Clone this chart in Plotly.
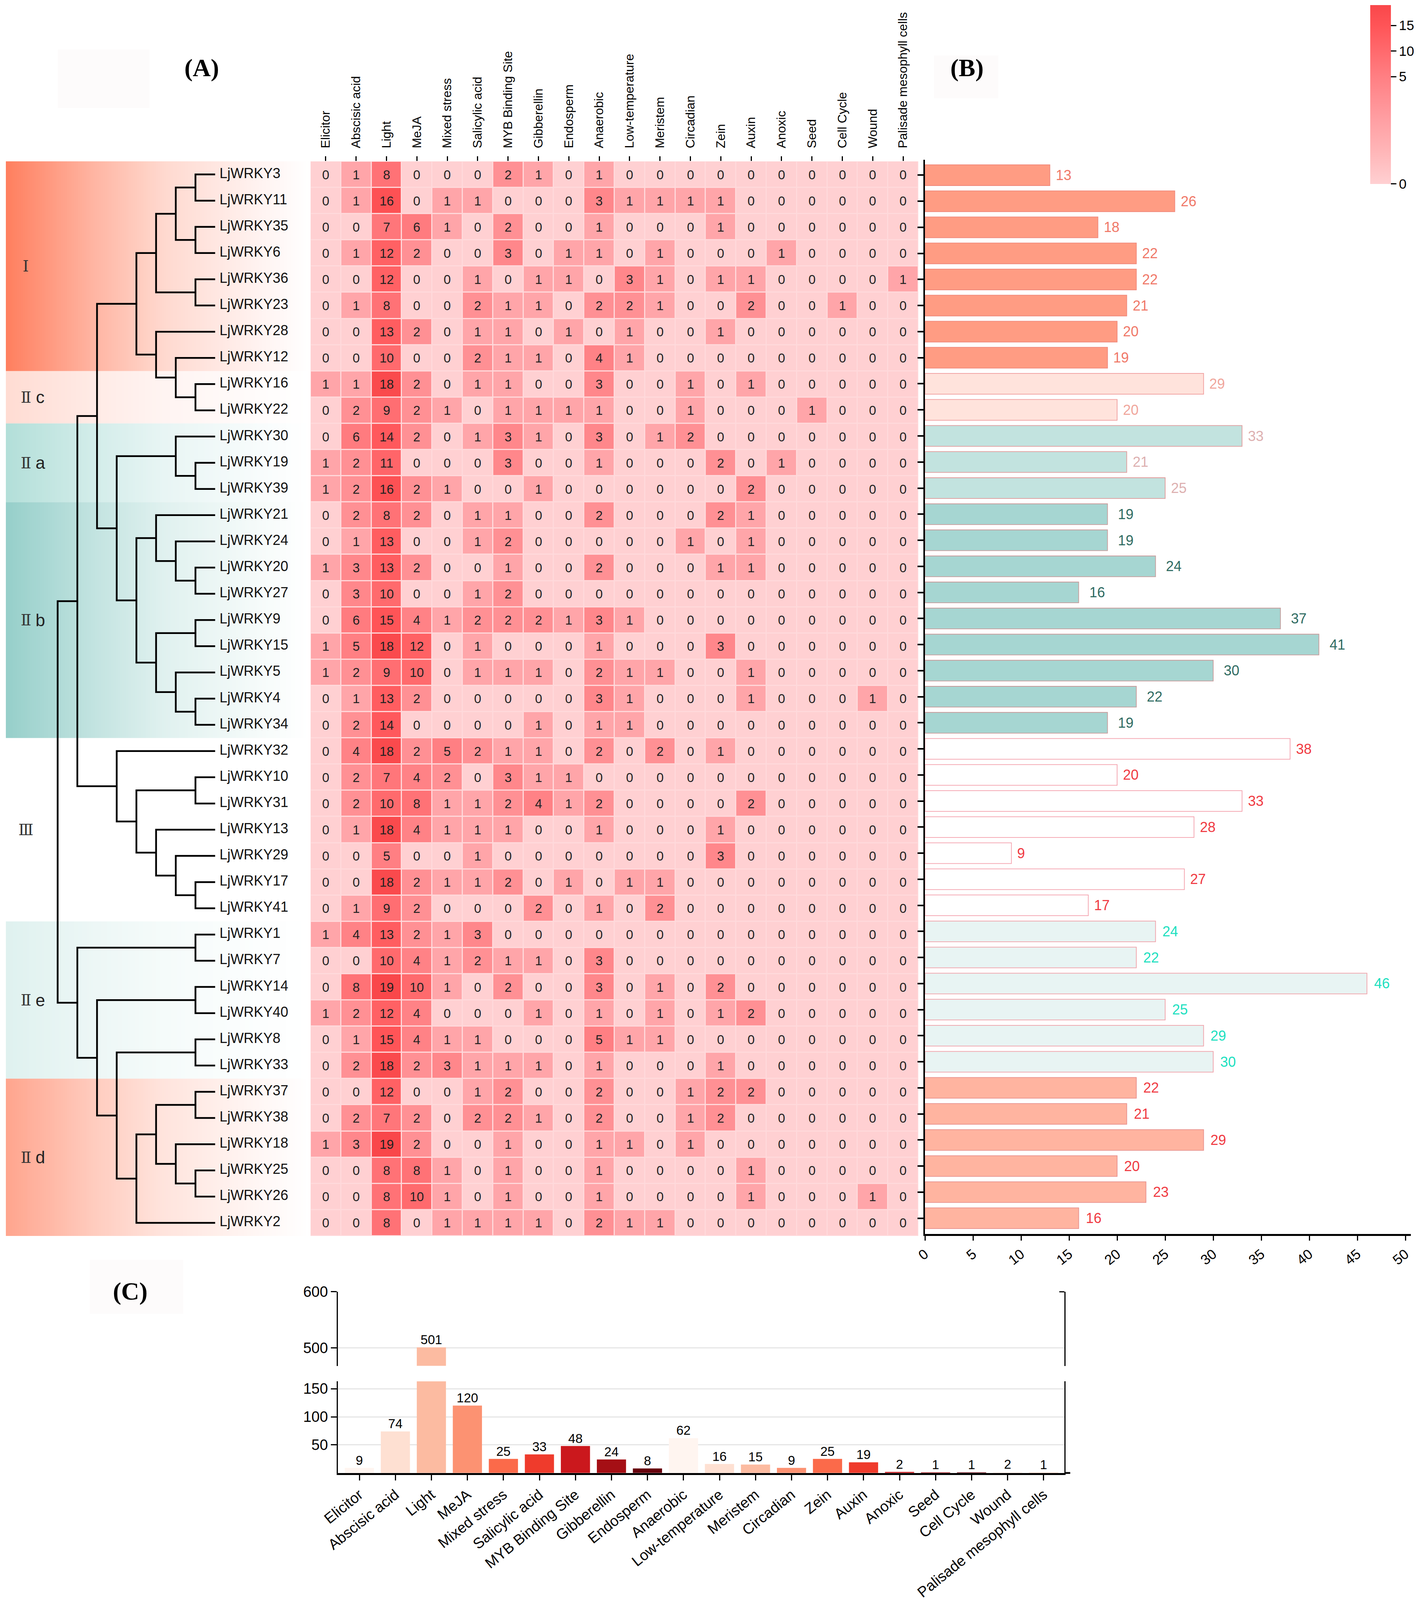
import numpy as np
import plotly.graph_objects as go

# ---------------------------------------------------------------- data
motifs = ["Elicitor", "Abscisic acid", "Light", "MeJA", "Mixed stress", "Salicylic acid",
          "MYB Binding Site", "Gibberellin", "Endosperm", "Anaerobic", "Low-temperature",
          "Meristem", "Circadian", "Zein", "Auxin", "Anoxic", "Seed", "Cell Cycle", "Wound",
          "Palisade mesophyll cells"]

genes = ["LjWRKY3", "LjWRKY11", "LjWRKY35", "LjWRKY6", "LjWRKY36", "LjWRKY23", "LjWRKY28", "LjWRKY12",
         "LjWRKY16", "LjWRKY22", "LjWRKY30", "LjWRKY19", "LjWRKY39", "LjWRKY21", "LjWRKY24", "LjWRKY20",
         "LjWRKY27", "LjWRKY9", "LjWRKY15", "LjWRKY5", "LjWRKY4", "LjWRKY34", "LjWRKY32", "LjWRKY10",
         "LjWRKY31", "LjWRKY13", "LjWRKY29", "LjWRKY17", "LjWRKY41", "LjWRKY1", "LjWRKY7", "LjWRKY14",
         "LjWRKY40", "LjWRKY8", "LjWRKY33", "LjWRKY37", "LjWRKY38", "LjWRKY18", "LjWRKY25", "LjWRKY26",
         "LjWRKY2"]

counts = [
    [0, 1, 8, 0, 0, 0, 2, 1, 0, 1, 0, 0, 0, 0, 0, 0, 0, 0, 0, 0],
    [0, 1, 16, 0, 1, 1, 0, 0, 0, 3, 1, 1, 1, 1, 0, 0, 0, 0, 0, 0],
    [0, 0, 7, 6, 1, 0, 2, 0, 0, 1, 0, 0, 0, 1, 0, 0, 0, 0, 0, 0],
    [0, 1, 12, 2, 0, 0, 3, 0, 1, 1, 0, 1, 0, 0, 0, 1, 0, 0, 0, 0],
    [0, 0, 12, 0, 0, 1, 0, 1, 1, 0, 3, 1, 0, 1, 1, 0, 0, 0, 0, 1],
    [0, 1, 8, 0, 0, 2, 1, 1, 0, 2, 2, 1, 0, 0, 2, 0, 0, 1, 0, 0],
    [0, 0, 13, 2, 0, 1, 1, 0, 1, 0, 1, 0, 0, 1, 0, 0, 0, 0, 0, 0],
    [0, 0, 10, 0, 0, 2, 1, 1, 0, 4, 1, 0, 0, 0, 0, 0, 0, 0, 0, 0],
    [1, 1, 18, 2, 0, 1, 1, 0, 0, 3, 0, 0, 1, 0, 1, 0, 0, 0, 0, 0],
    [0, 2, 9, 2, 1, 0, 1, 1, 1, 1, 0, 0, 1, 0, 0, 0, 1, 0, 0, 0],
    [0, 6, 14, 2, 0, 1, 3, 1, 0, 3, 0, 1, 2, 0, 0, 0, 0, 0, 0, 0],
    [1, 2, 11, 0, 0, 0, 3, 0, 0, 1, 0, 0, 0, 2, 0, 1, 0, 0, 0, 0],
    [1, 2, 16, 2, 1, 0, 0, 1, 0, 0, 0, 0, 0, 0, 2, 0, 0, 0, 0, 0],
    [0, 2, 8, 2, 0, 1, 1, 0, 0, 2, 0, 0, 0, 2, 1, 0, 0, 0, 0, 0],
    [0, 1, 13, 0, 0, 1, 2, 0, 0, 0, 0, 0, 1, 0, 1, 0, 0, 0, 0, 0],
    [1, 3, 13, 2, 0, 0, 1, 0, 0, 2, 0, 0, 0, 1, 1, 0, 0, 0, 0, 0],
    [0, 3, 10, 0, 0, 1, 2, 0, 0, 0, 0, 0, 0, 0, 0, 0, 0, 0, 0, 0],
    [0, 6, 15, 4, 1, 2, 2, 2, 1, 3, 1, 0, 0, 0, 0, 0, 0, 0, 0, 0],
    [1, 5, 18, 12, 0, 1, 0, 0, 0, 1, 0, 0, 0, 3, 0, 0, 0, 0, 0, 0],
    [1, 2, 9, 10, 0, 1, 1, 1, 0, 2, 1, 1, 0, 0, 1, 0, 0, 0, 0, 0],
    [0, 1, 13, 2, 0, 0, 0, 0, 0, 3, 1, 0, 0, 0, 1, 0, 0, 0, 1, 0],
    [0, 2, 14, 0, 0, 0, 0, 1, 0, 1, 1, 0, 0, 0, 0, 0, 0, 0, 0, 0],
    [0, 4, 18, 2, 5, 2, 1, 1, 0, 2, 0, 2, 0, 1, 0, 0, 0, 0, 0, 0],
    [0, 2, 7, 4, 2, 0, 3, 1, 1, 0, 0, 0, 0, 0, 0, 0, 0, 0, 0, 0],
    [0, 2, 10, 8, 1, 1, 2, 4, 1, 2, 0, 0, 0, 0, 2, 0, 0, 0, 0, 0],
    [0, 1, 18, 4, 1, 1, 1, 0, 0, 1, 0, 0, 0, 1, 0, 0, 0, 0, 0, 0],
    [0, 0, 5, 0, 0, 1, 0, 0, 0, 0, 0, 0, 0, 3, 0, 0, 0, 0, 0, 0],
    [0, 0, 18, 2, 1, 1, 2, 0, 1, 0, 1, 1, 0, 0, 0, 0, 0, 0, 0, 0],
    [0, 1, 9, 2, 0, 0, 0, 2, 0, 1, 0, 2, 0, 0, 0, 0, 0, 0, 0, 0],
    [1, 4, 13, 2, 1, 3, 0, 0, 0, 0, 0, 0, 0, 0, 0, 0, 0, 0, 0, 0],
    [0, 0, 10, 4, 1, 2, 1, 1, 0, 3, 0, 0, 0, 0, 0, 0, 0, 0, 0, 0],
    [0, 8, 19, 10, 1, 0, 2, 0, 0, 3, 0, 1, 0, 2, 0, 0, 0, 0, 0, 0],
    [1, 2, 12, 4, 0, 0, 0, 1, 0, 1, 0, 1, 0, 1, 2, 0, 0, 0, 0, 0],
    [0, 1, 15, 4, 1, 1, 0, 0, 0, 5, 1, 1, 0, 0, 0, 0, 0, 0, 0, 0],
    [0, 2, 18, 2, 3, 1, 1, 1, 0, 1, 0, 0, 0, 1, 0, 0, 0, 0, 0, 0],
    [0, 0, 12, 0, 0, 1, 2, 0, 0, 2, 0, 0, 1, 2, 2, 0, 0, 0, 0, 0],
    [0, 2, 7, 2, 0, 2, 2, 1, 0, 2, 0, 0, 1, 2, 0, 0, 0, 0, 0, 0],
    [1, 3, 19, 2, 0, 0, 1, 0, 0, 1, 1, 0, 1, 0, 0, 0, 0, 0, 0, 0],
    [0, 0, 8, 8, 1, 0, 1, 0, 0, 1, 0, 0, 0, 0, 1, 0, 0, 0, 0, 0],
    [0, 0, 8, 10, 1, 0, 1, 0, 0, 1, 0, 0, 0, 0, 1, 0, 0, 0, 1, 0],
    [0, 0, 8, 0, 1, 1, 1, 1, 0, 2, 1, 1, 0, 0, 0, 0, 0, 0, 0, 0],
]

gene_totals = [13, 26, 18, 22, 22, 21, 20, 19, 29, 20, 33, 21, 25, 19, 19, 24, 16, 37, 41, 30, 22, 19,
               38, 20, 33, 28, 9, 27, 17, 24, 22, 46, 25, 29, 30, 22, 21, 29, 20, 23, 16]

motif_totals = [9, 74, 501, 120, 25, 33, 48, 24, 8, 62, 16, 15, 9, 25, 19, 2, 1, 1, 2, 1]

group_numeral = ["Ⅰ", "Ⅱ", "Ⅱ", "Ⅱ", "Ⅲ", "Ⅱ", "Ⅱ"]
group_letter = ["", "c", "a", "b", "", "e", "d"]
group_size = [8, 2, 3, 9, 7, 6, 6]

# (level, child, child); leaf = gene name
tree = (0,
        (1,
         (2,
          (4,
           (5, (6, (7, "LjWRKY3", "LjWRKY11"), (7, "LjWRKY35", "LjWRKY6")), (7, "LjWRKY36", "LjWRKY23")),
           (5, "LjWRKY28", (6, "LjWRKY12", (7, "LjWRKY16", "LjWRKY22")))),
          (3,
           (6, "LjWRKY30", (7, "LjWRKY19", "LjWRKY39")),
           (4,
            (5, "LjWRKY21", (6, "LjWRKY24", (7, "LjWRKY20", "LjWRKY27"))),
            (5, (7, "LjWRKY9", "LjWRKY15"), (6, "LjWRKY5", (7, "LjWRKY4", "LjWRKY34")))))),
         (3,
          "LjWRKY32",
          (4,
           (7, "LjWRKY10", "LjWRKY31"),
           (5, "LjWRKY13", (6, "LjWRKY29", (7, "LjWRKY17", "LjWRKY41")))))),
        (1,
         (7, "LjWRKY1", "LjWRKY7"),
         (2,
          (7, "LjWRKY14", "LjWRKY40"),
          (3,
           (7, "LjWRKY8", "LjWRKY33"),
           (4,
            (5, (7, "LjWRKY37", "LjWRKY38"), (6, "LjWRKY18", (7, "LjWRKY25", "LjWRKY26"))),
            "LjWRKY2")))))

# ---------------------------------------------------------------- page geometry / styles
# Positions below are read off the 3638x4786 reference. The browser window is limited to 4096 px
# in height, so the page is laid out at that height and every vertical position keeps its fraction.
W, H = 3638, 4786
PAGE_H = 4096
VS = PAGE_H / H
FONT = "Liberation Sans"
SERIF = "Liberation Serif"


def dx(a, b):
    return [a / W, b / W]


def dy(top, bot):
    return [1 - bot / H, 1 - top / H]


ROW_TOP, ROW_BOT = 482.6, 3697.0
TREE_L, TREE_R = 15.0, 794.0
LEVEL0, LEVEL_STEP = 147.6, 50.4
level_range = [(TREE_L - LEVEL0) / LEVEL_STEP, (TREE_R - LEVEL0) / LEVEL_STEP]
n_rows = len(genes)
SLANT = -39  # 45 degrees on the reference, flattened with the page's height

band_color = ["#FF7F5F", "#FFDCD3", "#B3DFD9", "#96CFCA", "#FFFFFF", "#DFF1EF", "#FFA58E"]
bar_fill = ["#FF9C83", "#FFE3DC", "#C2E3DF", "#A6D6D2", "#FFFFFF", "#E8F4F3", "#FFB4A0"]
bar_edge = ["#F0887A", "#F09C9C", "#E09A9A", "#C89A9A", "#F4A0AC", "#F0A0A8", "#E8908C"]
label_color = ["#F07868", "#F0A69C", "#DDB0B0", "#2F6B62", "#F03A42", "#1DE0C0", "#F03A42"]
label_gap = [13, 13, 13, 25, 13, 16, 16]
reds = ["#FFF5F0", "#FEE0D2", "#FCBBA1", "#FC9272", "#FB6A4A", "#EF3B2C", "#CB181D", "#A50F15", "#67000D"]

fig = go.Figure()


def hex_mix(c, a):
    r, g, b = int(c[1:3], 16), int(c[3:5], 16), int(c[5:7], 16)
    m = lambda v: int(round(255 + (v - 255) * a))
    return f"rgb({m(r)},{m(g)},{m(b)})"


# gradient bands behind the tree
fade_pos = [0, 0.3, 0.52, 0.84, 1]
fade_alpha = [1, 0.56, 0.3, 0.09, 0]
grad_x = np.linspace(level_range[0], level_range[1], 161)
grad_z = [list(np.linspace(0, 1, 160))]
start = 0
row_groups = []
for g, size in enumerate(group_size):
    row_groups += [g] * size
    if band_color[g] != "#FFFFFF":
        fig.add_trace(go.Heatmap(
            x=grad_x, y=[start - 0.5, start + size - 0.5], z=grad_z, zmin=0, zmax=1,
            colorscale=[[p, hex_mix(band_color[g], a)] for p, a in zip(fade_pos, fade_alpha)],
            showscale=False, hoverinfo="skip", xaxis="x", yaxis="y"))
    start += size

# tree
row_of = {g: i for i, g in enumerate(genes)}
tx, ty = [], []


def walk(node):
    if isinstance(node, str):
        return 8, row_of[node]
    lev, a, b = node
    xa, ya = walk(a)
    xb, yb = walk(b)
    tx.extend([xa, lev, lev, xb, None])
    ty.extend([ya, ya, yb, yb, None])
    return lev, (ya + yb) / 2


walk(tree)
fig.add_trace(go.Scatter(x=tx, y=ty, mode="lines", line=dict(color="#000000", width=4.5),
                         hoverinfo="skip", showlegend=False, xaxis="x", yaxis="y"))
fig.add_trace(go.Scatter(x=[8.22] * n_rows, y=list(range(n_rows)), text=genes, mode="text",
                         textposition="middle right", textfont=dict(family=FONT, size=36, color="#111111"),
                         hoverinfo="skip", showlegend=False, xaxis="x", yaxis="y"))

# heatmap (colour position is non-linear in the count, as on the reference's colour bar)
color_count = [0, 1, 2, 3, 4, 5, 10, 15, 19]
color_pos = [0, 0.31, 0.47, 0.54, 0.575, 0.6, 0.742, 0.886, 1.0]
z_pos = np.interp(np.array(counts), color_count, color_pos)
fig.add_trace(go.Heatmap(
    x=motifs, y=genes, z=z_pos, text=counts, texttemplate="%{text}",
    textfont=dict(family=FONT, size=33, color="#222222"),
    zmin=0, zmax=1, xgap=3, ygap=3,
    colorscale=[[0, "#FFD0D2"], [0.18, "#FFB6B8"], [0.35, "#FFA0A4"], [0.6, "#FF7F83"],
                [0.88, "#FF5558"], [1, "#F9474A"]],
    hoverinfo="skip",
    colorbar=dict(
        x=3508 / W, xanchor="left", xpad=0, y=1 - 15 / H, yanchor="top", ypad=0,
        lenmode="pixels", len=535 * VS, thicknessmode="pixels", thickness=53, outlinewidth=0,
        tickmode="array", tickvals=list(np.interp([0, 5, 10, 15], color_count, color_pos)),
        ticktext=["0", "5", "10", "15"], ticks="outside", ticklen=14, tickwidth=3, tickcolor="#000000",
        tickfont=dict(family=FONT, size=35, color="#000000")),
    xaxis="x2", yaxis="y2"))

# panel B bars
fig.add_trace(go.Bar(
    y=genes, x=gene_totals, orientation="h", width=0.795,
    marker=dict(color=[bar_fill[g] for g in row_groups],
                line=dict(color=[bar_edge[g] for g in row_groups], width=1.8)),
    hoverinfo="skip", showlegend=False, xaxis="x3", yaxis="y3"))

annotations = []
for gene, total, g in zip(genes, gene_totals, row_groups):
    annotations.append(dict(x=total, y=gene, xref="x3", yref="y3", text=str(total), showarrow=False,
                            xanchor="left", yanchor="middle", xshift=label_gap[g],
                            font=dict(family=FONT, size=36, color=label_color[g])))

# panel C (broken axis)
C_UPPER_RANGE = [468.1, 600]
C_LOWER_RANGE = [0, 163.1]
bar_colors = [reds[i % len(reds)] for i in range(len(motifs))]
for xa, ya in (("x4", "y4"), ("x5", "y5")):
    fig.add_trace(go.Bar(x=motifs, y=motif_totals, width=0.81, marker=dict(color=bar_colors, line=dict(width=0)),
                         hoverinfo="skip", showlegend=False, xaxis=xa, yaxis=ya))
low = [(m, v) for m, v in zip(motifs, motif_totals) if v <= C_LOWER_RANGE[1]]
high = [(m, v) for m, v in zip(motifs, motif_totals) if v >= C_UPPER_RANGE[0]]
for pts, xa, ya in ((low, "x4", "y4"), (high, "x5", "y5")):
    fig.add_trace(go.Scatter(x=[p[0] for p in pts], y=[p[1] for p in pts], text=[str(p[1]) for p in pts],
                             mode="text", textposition="top center", cliponaxis=False,
                             textfont=dict(family=FONT, size=33, color="#000000"),
                             hoverinfo="skip", showlegend=False, xaxis=xa, yaxis=ya))

# group labels
start = 0
for num, let, size in zip(group_numeral, group_letter, group_size):
    mid = start + size / 2 - 0.5
    annotations.append(dict(x=(66 - LEVEL0) / LEVEL_STEP, y=mid, xref="x", yref="y", text=num, showarrow=False,
                            font=dict(family="DejaVu Serif", size=40, color="#333333"),
                            xanchor="center", yanchor="middle"))
    if let:
        annotations.append(dict(x=(103 - LEVEL0) / LEVEL_STEP, y=mid, xref="x", yref="y", text=let, showarrow=False,
                                font=dict(family=FONT, size=44, color="#222222"),
                                xanchor="center", yanchor="middle"))
    start += size

# panel titles
for txt, cx, cy in (("(A)", 516, 203), ("(B)", 2475, 203), ("(C)", 333, 3862)):
    annotations.append(dict(x=cx / W, y=1 - cy / H, xref="paper", yref="paper", text=f"<b>{txt}</b>", showarrow=False,
                            xanchor="center", yanchor="middle", font=dict(family=SERIF, size=64, color="#000000")))

# faint boxes and small extras
shapes = []
for a, b, c, d in ((148, 383, 148, 323), (2391, 2556, 166, 294), (230, 469, 3768, 3930)):
    shapes.append(dict(type="rect", xref="paper", yref="paper", x0=a / W, x1=b / W, y0=1 - d / H, y1=1 - c / H,
                       fillcolor="#FDFBFB", line=dict(width=0), layer="below"))
# light grid colour behind the heatmap cells
shapes.append(dict(type="rect", xref="paper", yref="paper", x0=795 / W, x1=2351 / W,
                   y0=1 - ROW_BOT / H, y1=1 - ROW_TOP / H, fillcolor="#FFD9DB", line=dict(width=0), layer="below"))
# bottom axis of panel C runs past the right spine; short tick at the spine's top
shapes.append(dict(type="line", xref="paper", yref="paper", x0=2725 / W, x1=2740 / W,
                   y0=1 - 4406 / H, y1=1 - 4406 / H, line=dict(color="#000000", width=4.5)))
shapes.append(dict(type="line", xref="paper", yref="paper", x0=2712 / W, x1=2725 / W,
                   y0=1 - 3864 / H, y1=1 - 3864 / H, line=dict(color="#000000", width=3)))

base = dict(showgrid=False, zeroline=False, showline=False, ticks="", showticklabels=False)
c_x_range = [(865 - 920) / 92.2, (2725 - 920) / 92.2]

fig.update_layout(
    width=W, height=PAGE_H, autosize=False, margin=dict(l=0, r=0, t=0, b=0, pad=0, autoexpand=False),
    paper_bgcolor="#FFFFFF", plot_bgcolor="rgba(0,0,0,0)", showlegend=False, barmode="overlay",
    annotations=annotations, shapes=shapes,
    font=dict(family=FONT, color="#000000"),
    xaxis=dict(base, domain=dx(TREE_L, TREE_R), range=level_range, anchor="y"),
    yaxis=dict(base, domain=dy(ROW_TOP, ROW_BOT), range=[n_rows - 0.5, -0.5], anchor="x"),
    xaxis2=dict(base, domain=dx(795, 2351), range=[-0.5, len(motifs) - 0.5], anchor="y2", side="top",
                type="category", ticks="outside", ticklen=12, tickwidth=3, tickcolor="#000000",
                showticklabels=True, tickangle=-90, ticklabelstandoff=14,
                tickfont=dict(family=FONT, size=32, color="#000000")),
    yaxis2=dict(base, domain=dy(ROW_TOP, ROW_BOT), range=[n_rows - 0.5, -0.5], anchor="x2", type="category"),
    xaxis3=dict(base, domain=dx(2368, 3612), range=[0, (3612 - 2368) / 24.6], anchor="y3",
                showline=True, linecolor="#000000", linewidth=4.5, ticks="outside", ticklen=12, tickwidth=3,
                tickcolor="#000000", tickmode="linear", tick0=0, dtick=5, showticklabels=True, tickangle=SLANT,
                tickfont=dict(family=FONT, size=36, color="#000000")),
    yaxis3=dict(base, domain=dy(478, 3691), type="category", range=[(3691 - 524) / 78.0, (478 - 524) / 78.0],
                anchor="x3", showline=True, linecolor="#000000", linewidth=3.5, ticks="outside", ticklen=15,
                tickwidth=3.5, tickcolor="#000000", tickmode="array", tickvals=genes),
    xaxis4=dict(base, domain=dx(865, 2725), range=c_x_range, type="category", anchor="y4",
                categoryorder="array", categoryarray=motifs,
                showline=True, linecolor="#000000", linewidth=4.5, ticks="outside", ticklen=14, tickwidth=3,
                tickcolor="#000000", showticklabels=True, tickangle=SLANT, tickmode="array", tickvals=motifs,
                tickfont=dict(family=FONT, size=38, color="#000000")),
    yaxis4=dict(base, domain=dy(4132, 4406), range=C_LOWER_RANGE, anchor="x4", showgrid=True,
                gridcolor="#E6E6E6", gridwidth=3, showline=True, linecolor="#000000", linewidth=2.5, mirror=True,
                ticks="outside", ticklen=15, tickwidth=3, tickcolor="#000000", tickmode="array",
                tickvals=[50, 100, 150], showticklabels=True,
                tickfont=dict(family=FONT, size=38, color="#000000")),
    xaxis5=dict(base, domain=dx(865, 2725), range=c_x_range, type="category", anchor="y5",
                categoryorder="array", categoryarray=motifs),
    yaxis5=dict(base, domain=dy(3864, 4085.6), range=C_UPPER_RANGE, anchor="x5", showgrid=True,
                gridcolor="#E6E6E6", gridwidth=3, showline=True, linecolor="#000000", linewidth=2.5, mirror=True,
                ticks="outside", ticklen=15, tickwidth=3, tickcolor="#000000", tickmode="array",
                tickvals=[500, 600], showticklabels=True,
                tickfont=dict(family=FONT, size=38, color="#000000")),
)

fig.write_html("out.html", config={"displayModeBar": False},
               post_script="document.body.style.margin='0';")
